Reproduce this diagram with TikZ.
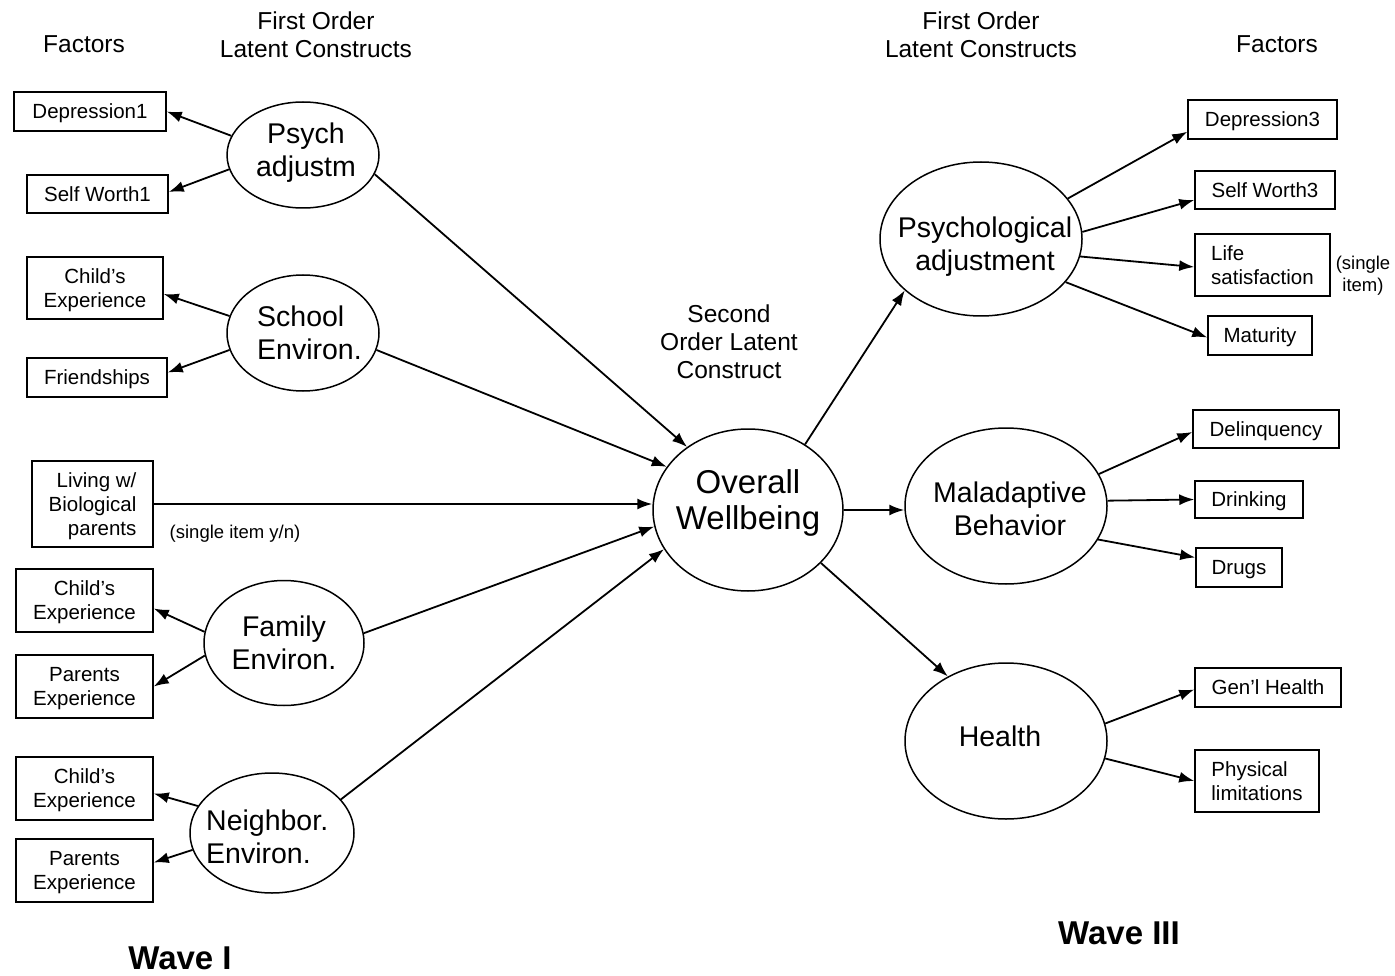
\documentclass[tikz,border=0pt]{standalone}
\usepackage{fontspec}
\setmainfont{Liberation Sans}
\usetikzlibrary{shapes.geometric,arrows.meta}
\begin{document}
\begin{tikzpicture}[x=1pt,y=-1pt,
  box/.style={draw, line width=1.5pt, inner sep=0pt, align=center, text depth=0pt, font=\fontsize{20.5}{24}\selectfont},
  oval/.style={draw, ellipse, line width=1.5pt, inner sep=0pt},
  ovtext/.style={align=center, inner sep=0pt, font=\fontsize{28.5}{33}\selectfont},
  bigtext/.style={align=center, inner sep=0pt, font=\fontsize{33}{36}\selectfont},
  head/.style={align=center, inner sep=0pt, font=\fontsize{24.5}{28}\selectfont},
  note/.style={align=center, inner sep=0pt, font=\fontsize{18.5}{22}\selectfont},
  wave/.style={inner sep=0pt, font=\fontsize{33}{38}\selectfont\bfseries},
  link/.style={-{Latex[length=15pt,width=11pt]}, line width=1.8pt},
]
\useasboundingbox (0,0) rectangle (1395,976);

% headers
\node[head] (hf1) at (84,44) {Factors};
\node[head] (hl1) at (316,35) {First Order\\Latent Constructs};
\node[head] (hl2) at (981,35) {First Order\\Latent Constructs};
\node[head] (hf2) at (1277,44) {Factors};
\node[head] (hso) at (729,342) {Second\\Order Latent\\Construct};

% left boxes
\node[box, minimum width=152pt, minimum height=39pt] (dep1) at (90,111.5) {Depression1};
\node[box, minimum width=141pt, minimum height=38pt] (sw1) at (97.5,194) {Self Worth1};
\node[box, minimum width=136pt, minimum height=62pt] (sch1) at (95,288) {Child’s\\Experience};
\node[box, minimum width=140pt, minimum height=39pt] (fr) at (97,377.5) {Friendships};
\node[box, minimum width=121pt, minimum height=86pt, align=right] (liv) at (92.5,504) {Living w/\\Biological\\parents};
\node[box, minimum width=137pt, minimum height=63pt] (fam1) at (84.5,600.5) {Child’s\\Experience};
\node[box, minimum width=137pt, minimum height=63pt] (fam2) at (84.5,686.5) {Parents\\Experience};
\node[box, minimum width=137pt, minimum height=63pt] (nb1) at (84.5,788.5) {Child’s\\Experience};
\node[box, minimum width=137pt, minimum height=63pt] (nb2) at (84.5,870.5) {Parents\\Experience};
\node[note] (single1) at (235,534) {(single item y/n)};

% left ellipses
\node[oval, minimum width=152pt, minimum height=106pt] (psy) at (303,155) {};
\node[ovtext] (psyt) at (306,153) {Psych\\adjustm};
\node[oval, minimum width=152pt, minimum height=116pt] (sch) at (303,333) {};
\node[ovtext, align=left, anchor=west] (scht) at (257,333) {School\\Environ.};
\node[oval, minimum width=160pt, minimum height=125pt] (fam) at (284,643) {};
\node[ovtext] (famt) at (284,643) {Family\\Environ.};
\node[oval, minimum width=164pt, minimum height=120pt] (nb) at (272,833) {};
\node[ovtext, align=left, anchor=west] (nbt) at (206,837) {Neighbor.\\Environ.};

% centre
\node[oval, minimum width=190pt, minimum height=162pt] (ow) at (748,510) {};
\node[bigtext] (owt) at (748,503) {Overall\\Wellbeing};

% right ellipses
\node[oval, minimum width=202pt, minimum height=154pt] (pa) at (981,239) {};
\node[ovtext] (pat) at (985,247) {Psychological\\adjustment};
\node[oval, minimum width=202pt, minimum height=156pt] (mal) at (1006,506) {};
\node[ovtext] (malt) at (1010,509) {Maladaptive\\Behavior};
\node[oval, minimum width=202pt, minimum height=156pt] (hl) at (1006,741) {};
\node[ovtext] (hlt) at (1000,736) {Health};

% right boxes
\node[box, minimum width=149pt, minimum height=39pt] (dep3) at (1262.5,119.5) {Depression3};
\node[box, minimum width=140pt, minimum height=38pt] (sw3) at (1265,190) {Self Worth3};
\node[box, minimum width=135pt, minimum height=62pt, align=left] (life) at (1262.5,265) {Life\\satisfaction};
\node[note] (single2) at (1363,276) {(single\\item)};
\node[box, minimum width=104pt, minimum height=39pt] (mat) at (1260,335.5) {Maturity};
\node[box, minimum width=146pt, minimum height=38pt] (del) at (1266,429) {Delinquency};
\node[box, minimum width=108pt, minimum height=37pt] (drink) at (1249,499.5) {Drinking};
\node[box, minimum width=86pt, minimum height=39pt] (drug) at (1239,567.5) {Drugs};
\node[box, minimum width=146pt, minimum height=39pt] (gen) at (1268,687.5) {Gen’l Health};
\node[box, minimum width=124pt, minimum height=62pt, align=left] (phys) at (1257,781) {Physical\\limitations};

% wave labels
\node[wave] (w1) at (180,958) {Wave I};
\node[wave] (w3) at (1119,933) {Wave III};

% left connectors
\draw[link] (psy.165.8) -- (dep1.east);
\draw[link] (psy.191) -- ([yshift=2pt]sw1.east);
\draw[link] (sch.167) -- ([yshift=-6pt]sch1.east);
\draw[link] (sch.193) -- ([yshift=5pt]fr.east);
\draw[link] (fam.172) -- ([yshift=-8pt]fam1.east);
\draw[link] (fam.189) -- (fam2.east);
\draw[link] (nb.160) -- ([yshift=-5pt]nb1.east);
\draw[link] (nb.192) -- ([yshift=8pt]nb2.east);

% into centre
\draw[link] (psy.345) -- (ow.134.6);
\draw[link] (sch.347) -- (ow.152);
\draw[link] (liv.east) -- (liv.east -| ow.west);
\draw[link] (fam.7.6) -- (ow.190);
\draw[link] (nb.26.9) -- (ow.205);

% out of centre
\draw[link] (ow.49) -- (pa.214.6);
\draw[link] (ow.east) -- (ow.east -| mal.west);
\draw[link] (ow.324.5) -- (hl.132);

% right connectors
\draw[link] (pa.25.5) -- ([yshift=8pt]dep3.south west);
\draw[link] (pa.4) -- ([yshift=-10pt]sw3.west);
\draw[link] (pa.350) -- ([yshift=-2pt]life.west);
\draw[link] (pa.333.7) -- ([yshift=-2pt]mat.west);
\draw[link] (mal.19) -- ([yshift=-3pt]del.west);
\draw[link] (mal.3.4) -- (drink.west);
\draw[link] (mal.340.6) -- ([yshift=10pt]drug.west);
\draw[link] (hl.10) -- ([yshift=-2pt]gen.west);
\draw[link] (hl.350) -- (phys.west);
\end{tikzpicture}
\end{document}
